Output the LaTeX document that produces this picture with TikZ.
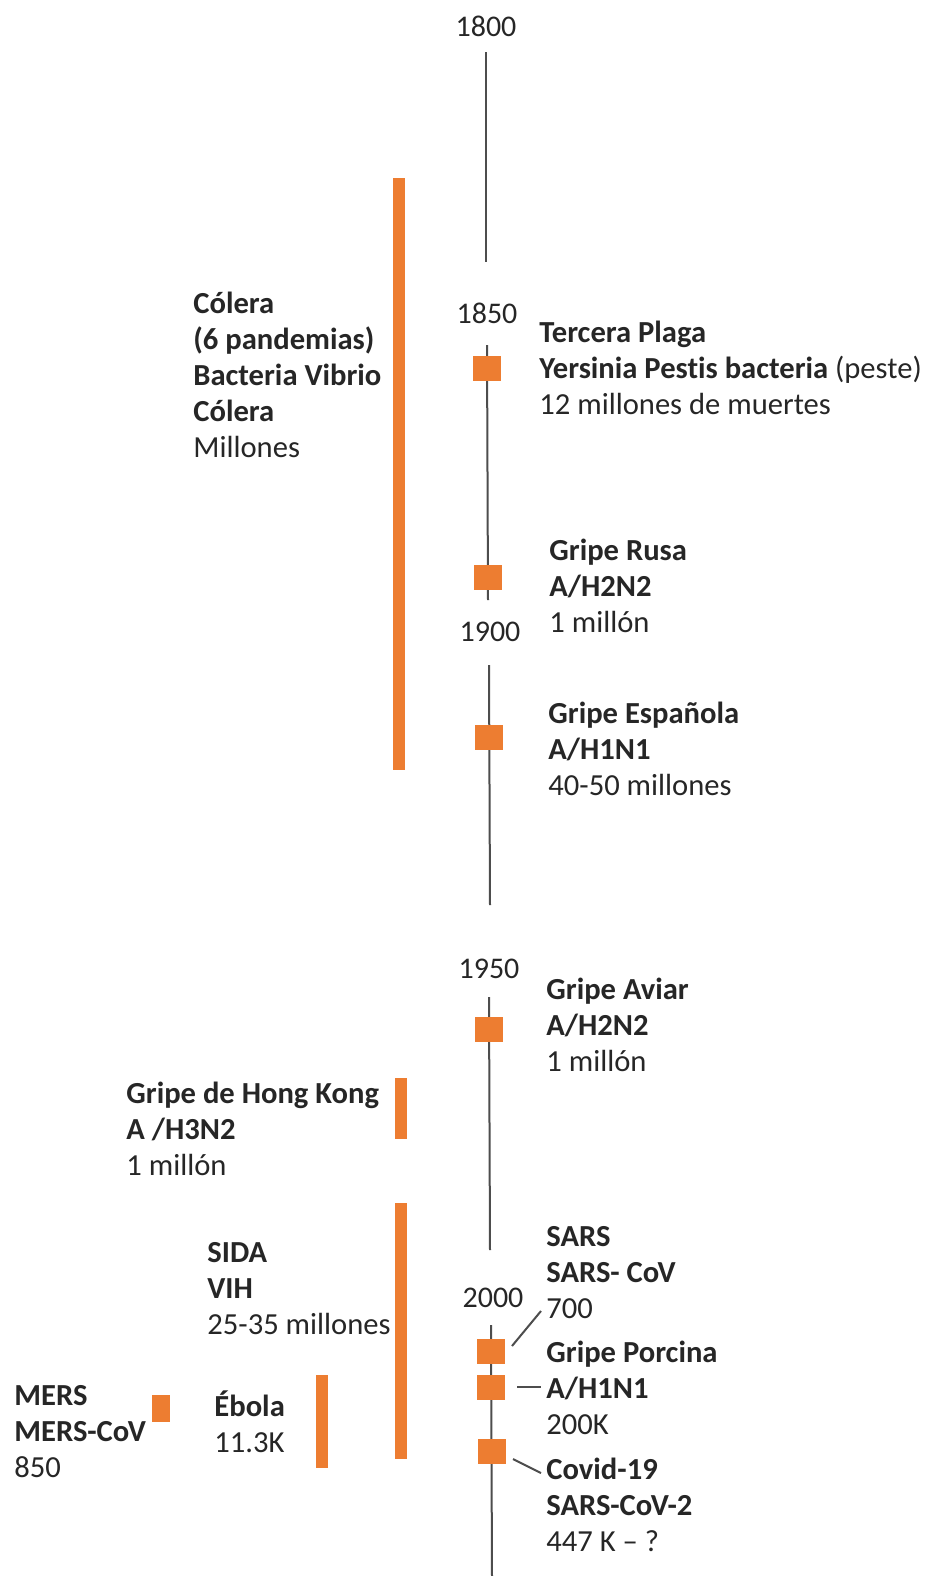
\documentclass[tikz,border=0pt]{standalone}
\usepackage{fontspec}
\setmainfont{Carlito}[Ligatures=NoCommon]
\definecolor{orng}{HTML}{ED7D31}
\definecolor{txt}{HTML}{262626}
\definecolor{axisc}{HTML}{4D4D4D}
\begin{document}
\begin{tikzpicture}[x=0.5pt,y=-0.5pt,
  lbl/.style={anchor=base west, align=left, inner sep=0pt, text=txt, font=\fontsize{15.3}{18}\selectfont},
  yr/.style={anchor=base, inner sep=0pt, text=txt, font=\fontsize{15}{18}\selectfont},
  sq/.style={fill=orng, minimum width=14pt, minimum height=12.5pt, inner sep=0pt},
  bar/.style={fill=orng, minimum width=6pt, inner sep=0pt},
  axisline/.style={draw=axisc, line width=1pt},
  conn/.style={draw=axisc, line width=1pt}]
\useasboundingbox (0,0) rectangle (931,1576);

% timeline segments
\coordinate (t1a) at (486,52);   \coordinate (t1b) at (486,262);
\coordinate (t2a) at (487,345);  \coordinate (t2b) at (488,600);
\coordinate (t3a) at (489,665);  \coordinate (t3b) at (490,905);
\coordinate (t4a) at (489,997);  \coordinate (t4b) at (490,1250);
\coordinate (t5a) at (491,1325); \coordinate (t5b) at (492,1576);
\draw[axisline] (t1a) -- (t1b);
\draw[axisline] (t2a) -- (t2b);
\draw[axisline] (t3a) -- (t3b);
\draw[axisline] (t4a) -- (t4b);
\draw[axisline] (t5a) -- (t5b);

% years
\node[yr] (y1800) at (486,36) {1800};
\node[yr] (y1850) at (487,323) {1850};
\node[yr] (y1900) at (490,641) {1900};
\node[yr] (y1950) at (489,978) {1950};
\node[yr] (y2000) at (493,1307) {2000};

% squares on the axis
\node[sq] (sq1) at (487,368) {};
\node[sq] (sq2) at (488,577) {};
\node[sq] (sq3) at (489,737) {};
\node[sq] (sq4) at (489,1029) {};
\node[sq] (sq5) at (491,1351) {};
\node[sq] (sq6) at (491,1387) {};
\node[sq] (sq7) at (492,1451) {};

% left bars
\node[bar, minimum height=296pt] (bcolera) at (399,474) {};
\node[bar, minimum height=30.5pt] (bhk) at (401,1108.5) {};
\node[bar, minimum height=128pt] (bsida) at (401,1331) {};
\node[bar, minimum height=46.5pt] (bebola) at (322,1421.5) {};
\node[bar, minimum width=9pt, minimum height=13.5pt] (bmers) at (161,1408.5) {};

% right labels (anchor = baseline of last line)
\node[lbl] (tercera) at (539,414) {\textbf{Tercera Plaga}\\\textbf{Yersinia Pestis bacteria} (peste)\\12 millones de muertes};
\node[lbl] (rusa) at (549,632) {\textbf{Gripe Rusa}\\\textbf{A/H2N2}\\1 millón};
\node[lbl] (espanola) at (548,795) {\textbf{Gripe Española}\\\textbf{A/H1N1}\\40-50 millones};
\node[lbl] (aviar) at (546,1071) {\textbf{Gripe Aviar}\\\textbf{A/H2N2}\\1 millón};
\node[lbl] (sars) at (546,1318) {\textbf{SARS}\\\textbf{SARS- CoV}\\700};
\node[lbl] (porcina) at (546,1434) {\textbf{Gripe Porcina}\\\textbf{A/H1N1}\\200K};
\node[lbl] (covid) at (546,1551) {\textbf{Covid-19}\\\textbf{SARS-CoV-2}\\447 K – ?};

% left labels
\node[lbl] (colera) at (193,457) {\textbf{Cólera}\\\textbf{(6 pandemias)}\\\textbf{Bacteria Vibrio}\\\textbf{Cólera}\\Millones};
\node[lbl] (hk) at (126,1175) {\textbf{Gripe de Hong Kong}\\\textbf{A /H3N2}\\1 millón};
\node[lbl] (sida) at (207,1334) {\textbf{SIDA}\\\textbf{VIH}\\25-35 millones};
\node[lbl] (mers) at (14,1477) {\textbf{MERS}\\\textbf{MERS-CoV}\\850};
\node[lbl] (ebola) at (214,1452) {\textbf{Ébola}\\11.3K};

% connectors
\coordinate (c5a) at (512,1346); \coordinate (c5b) at (541,1311);
\coordinate (c6a) at (517,1387); \coordinate (c6b) at (541,1387);
\coordinate (c7a) at (513,1459); \coordinate (c7b) at (541,1473);
\draw[conn] (c5a) -- (c5b);
\draw[conn] (c6a) -- (c6b);
\draw[conn] (c7a) -- (c7b);
\end{tikzpicture}
\end{document}
